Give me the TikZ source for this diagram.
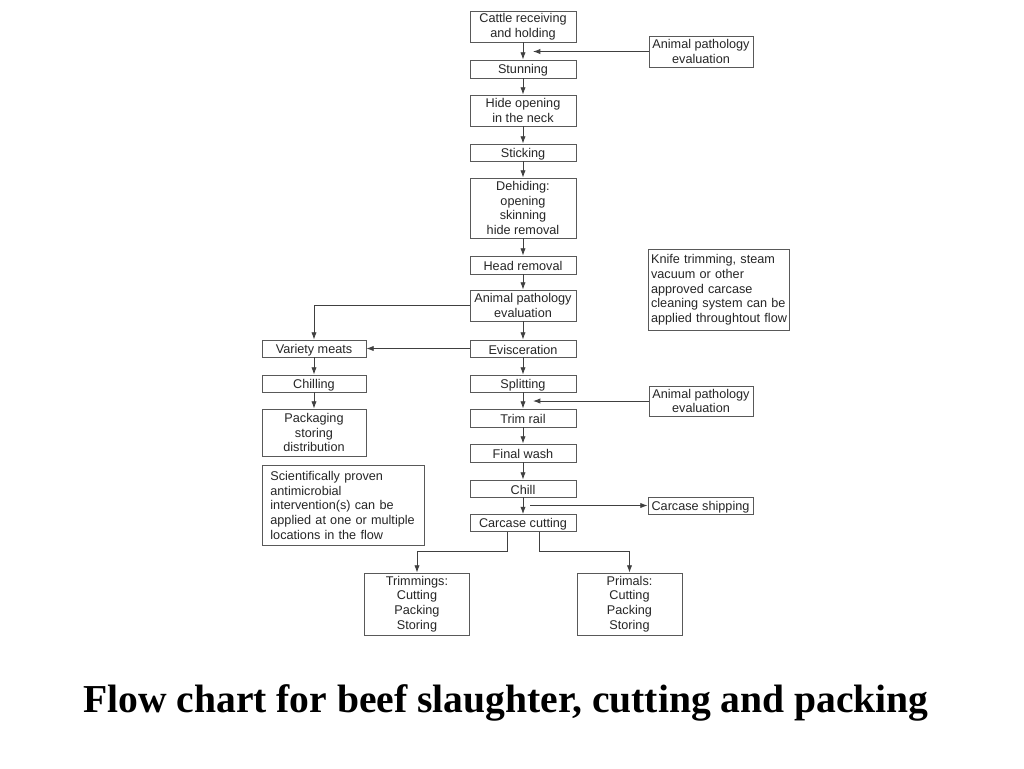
\documentclass[tikz,border=0pt]{standalone}
\usepackage{fontspec}
\setmainfont{Liberation Sans}
\newfontfamily\titlefont{Liberation Serif}
\usetikzlibrary{arrows.meta,calc}
\begin{document}
\begin{tikzpicture}[x=0.75pt,y=-0.75pt,
  box/.style={draw=black!65, line width=0.6pt, inner sep=0pt, align=center,
    font=\fontsize{9.5}{11}\selectfont, text=black!85},
  stepbox/.style={box, execute at begin node={\rule{0pt}{9pt}}},
  note/.style={box, align=left, inner ysep=4pt, anchor=north west},
  flow/.style={draw=black!75, line width=0.7pt, -{Latex[length=5.5pt,width=4pt]}},
  plain/.style={draw=black!75, line width=0.7pt}]
\useasboundingbox (0,0) rectangle (1024,768);
\fill[white] (0,0) rectangle (1024,768);

\newcommand{\bx}[6]{\node[stepbox, minimum width=#3*0.75pt, minimum height=#4*0.75pt] (#5) at (#1,#2) {#6};}

\bx{523}{26.5}{106}{31}{cattle}{Cattle receiving\\and holding}
\bx{701}{51.5}{104}{31}{apeA}{Animal pathology\\evaluation}
\bx{523}{69}{106}{18}{stun}{Stunning}
\bx{523}{110.5}{106}{31}{hide}{Hide opening\\in the neck}
\bx{523}{152.5}{106}{17}{stick}{Sticking}
\bx{523}{208}{106}{60}{dehide}{Dehiding:\\opening\\skinning\\hide removal}
\bx{523}{265}{106}{18}{head}{Head removal}
\bx{523}{305.5}{106}{31}{apeB}{Animal pathology\\evaluation}
\bx{523}{348.5}{106}{17}{visc}{Evisceration}
\bx{314}{348.5}{104}{17}{variety}{Variety meats}
\bx{314}{383.5}{104}{17}{chilling}{Chilling}
\bx{314}{432.5}{104}{47}{pack}{Packaging\\storing\\distribution}
\bx{523}{383.5}{106}{17}{split}{Splitting}
\bx{701}{401}{104}{30}{apeC}{Animal pathology\\evaluation}
\bx{523}{418}{106}{18}{trim}{Trim rail}
\bx{523}{453}{106}{18}{wash}{Final wash}
\bx{523}{488.5}{106}{17}{chill}{Chill}
\bx{700.5}{505.5}{105}{17}{ship}{Carcase shipping}
\bx{523}{523}{106}{17}{cut}{Carcase cutting}
\bx{417}{604}{105}{62}{trimm}{Trimmings:\\Cutting\\Packing\\Storing}
\bx{629.5}{604}{105}{62}{primals}{Primals:\\Cutting\\Packing\\Storing}

\node[note, inner xsep=2pt, minimum height=80*0.75pt, text width=136*0.75pt] (knife) at (648,249)
  {Knife trimming, steam\\vacuum or other\\approved carcase\\cleaning system can be\\applied throughtout flow};
\node[note, inner xsep=6pt, minimum height=80*0.75pt, text width=146*0.75pt] (sci) at (262,465)
  {Scientifically proven\\antimicrobial\\intervention(s) can be\\applied at one or multiple\\locations in the flow};

\node[font=\titlefont\bfseries\fontsize{29.7}{34}\selectfont, text=black] (title) at (506,703)
  {Flow chart for beef slaughter, cutting and packing};

% main chain
\draw[flow] (cattle) -- (stun);
\draw[flow] (stun) -- (hide);
\draw[flow] (hide) -- (stick);
\draw[flow] (stick) -- (dehide);
\draw[flow] (dehide) -- (head);
\draw[flow] (head) -- (apeB);
\draw[flow] (apeB) -- (visc);
\draw[flow] (visc) -- (split);
\draw[flow] (split) -- (trim);
\draw[flow] (trim) -- (wash);
\draw[flow] (wash) -- (chill);
\draw[flow] (chill) -- (cut);

% side branches
\coordinate (inA) at (533,51.5);
\coordinate (inC) at (533,401);
\coordinate (outS) at (530,505.5);
\draw[flow] (apeA.west) -- (inA);
\draw[flow] (apeC.west) -- (inC);
\draw[flow] (outS) -- (ship.west);

\draw[flow] (apeB.west) -| (variety.north);
\draw[flow] (visc.west) -- (variety.east);
\draw[flow] (variety) -- (chilling);
\draw[flow] (chilling) -- (pack);

\coordinate (cutL) at (507,531.5);
\coordinate (cutR) at (539,531.5);
\coordinate (midL) at (507,551);
\coordinate (midR) at (539,551);
\draw[flow] (cutL) -- (midL) -| (trimm.north);
\draw[flow] (cutR) -- (midR) -| (primals.north);
\end{tikzpicture}
\end{document}
